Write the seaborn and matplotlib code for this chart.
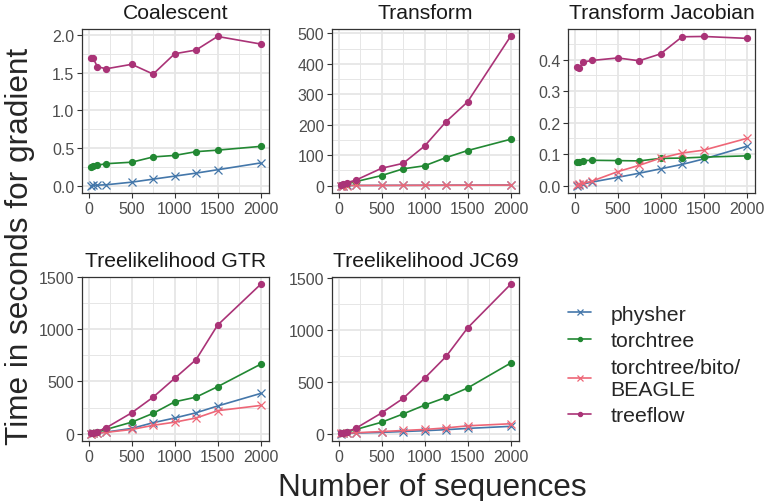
import pandas as pd
import matplotlib
matplotlib.use("Agg")
import matplotlib.pyplot as plt
import seaborn as sns
from matplotlib.ticker import MultipleLocator, AutoMinorLocator
from matplotlib.lines import Line2D

# number of sequences (x axis)
n_seq = [20, 50, 100, 200, 500, 750, 1000, 1250, 1500, 2000]

# Coalescent
coal_physher = [0.0, 0.002, 0.005, 0.01, 0.045, 0.085, 0.125, 0.165, 0.21, 0.30]
coal_torchtree = [0.25, 0.26, 0.27, 0.29, 0.31, 0.38, 0.40, 0.45, 0.47, 0.52]
coal_treeflow = [1.70, 1.69, 1.58, 1.55, 1.61, 1.48, 1.75, 1.80, 1.98, 1.88]

# Transform
trans_physher = [0.05, 0.1, 0.2, 0.3, 0.6, 0.8, 1.0, 1.2, 1.4, 1.8]
trans_torchtree = [1, 3, 6, 13, 33, 55, 65, 92, 115, 152]
trans_beagle = [0.03, 0.05, 0.1, 0.2, 0.4, 0.6, 0.8, 1.0, 1.2, 1.5]
trans_treeflow = [2, 5, 10, 18, 57, 73, 130, 210, 275, 490]

# Transform Jacobian
jac_physher = [0.001, 0.003, 0.006, 0.012, 0.027, 0.040, 0.054, 0.068, 0.085, 0.125]
jac_torchtree = [0.074, 0.077, 0.080, 0.081, 0.080, 0.079, 0.087, 0.088, 0.091, 0.095]
jac_beagle = [0.003, 0.005, 0.008, 0.015, 0.045, 0.065, 0.088, 0.104, 0.113, 0.150]
jac_treeflow = [0.375, 0.373, 0.392, 0.397, 0.405, 0.396, 0.418, 0.472, 0.473, 0.467]

# Treelikelihood GTR
gtr_physher = [1, 3, 6, 15, 50, 105, 150, 200, 265, 385]
gtr_torchtree = [2, 6, 15, 40, 110, 195, 305, 350, 450, 665]
gtr_beagle = [1, 2, 5, 12, 40, 80, 110, 150, 220, 270]
gtr_treeflow = [3, 8, 20, 55, 200, 350, 530, 710, 1040, 1430]

# Treelikelihood JC69
jc_physher = [0.5, 1, 2, 5, 12, 20, 28, 38, 50, 70]
jc_torchtree = [2, 6, 15, 40, 110, 190, 275, 350, 440, 680]
jc_beagle = [1, 2, 4, 8, 20, 30, 40, 55, 75, 95]
jc_treeflow = [3, 8, 20, 52, 200, 340, 535, 745, 1020, 1440]

methods = ["physher", "torchtree", "torchtree/bito/BEAGLE", "treeflow"]
legend_labels = ["physher", "torchtree", "torchtree/bito/\nBEAGLE", "treeflow"]
colors = {"physher": "#4477AA", "torchtree": "#228833",
          "torchtree/bito/BEAGLE": "#EE6677", "treeflow": "#AA3377"}
markers = {"physher": "x", "torchtree": "o",
           "torchtree/bito/BEAGLE": "x", "treeflow": "o"}

paineis = {
    "Coalescent": {"physher": coal_physher, "torchtree": coal_torchtree,
                   "treeflow": coal_treeflow},
    "Transform": {"physher": trans_physher, "torchtree": trans_torchtree,
                  "torchtree/bito/BEAGLE": trans_beagle, "treeflow": trans_treeflow},
    "Transform Jacobian": {"physher": jac_physher, "torchtree": jac_torchtree,
                           "torchtree/bito/BEAGLE": jac_beagle, "treeflow": jac_treeflow},
    "Treelikelihood GTR": {"physher": gtr_physher, "torchtree": gtr_torchtree,
                           "torchtree/bito/BEAGLE": gtr_beagle, "treeflow": gtr_treeflow},
    "Treelikelihood JC69": {"physher": jc_physher, "torchtree": jc_torchtree,
                            "torchtree/bito/BEAGLE": jc_beagle, "treeflow": jc_treeflow},
}
y_step = {"Coalescent": 0.5, "Transform": 100, "Transform Jacobian": 0.1,
          "Treelikelihood GTR": 500, "Treelikelihood JC69": 500}

linhas = []
for painel, series in paineis.items():
    for m, vals in series.items():
        for n, v in zip(n_seq, vals):
            linhas.append({"panel": painel, "method": m, "n": n, "time": v})
dados = pd.DataFrame(linhas)

sns.set_style("white")
plt.rcParams['font.family'] = ['Liberation Sans', 'DejaVu Sans']

W, H = 765, 502
fig = plt.figure(figsize=(W / 100, H / 100), dpi=100)

# panel boxes in pixels: left, top, width, height
caixas = {
    "Coalescent": (82, 30, 187, 164),
    "Transform": (332, 30, 187, 164),
    "Transform Jacobian": (568, 30, 187, 164),
    "Treelikelihood GTR": (82, 278, 187, 164),
    "Treelikelihood JC69": (332, 278, 187, 164),
}

for painel, (l, t, w, h) in caixas.items():
    ax = fig.add_axes([l / W, 1 - (t + h) / H, w / W, h / H])
    sub = dados[dados.panel == painel]
    for m in methods:
        d = sub[sub.method == m]
        if d.empty:
            continue
        ms = 5.5 if markers[m] == "x" else 4.3
        sns.lineplot(data=d, x="n", y="time", ax=ax, color=colors[m],
                     marker=markers[m], markersize=ms, mec=colors[m],
                     mew=0.9, lw=1.2, legend=False)
    ax.margins(x=0.05, y=0.05)
    ax.xaxis.set_major_locator(MultipleLocator(500))
    ax.xaxis.set_minor_locator(AutoMinorLocator(2))
    ax.yaxis.set_major_locator(MultipleLocator(y_step[painel]))
    ax.yaxis.set_minor_locator(AutoMinorLocator(2))
    ax.set_axisbelow(True)
    ax.grid(which="major", color="#E6E6E6", lw=1.3)
    ax.grid(which="minor", color="#E6E6E6", lw=0.7)
    for s in ax.spines.values():
        s.set_color("#333333")
        s.set_linewidth(0.9)
    ax.tick_params(which="major", direction="out", length=3.5, width=0.8,
                   color="#333333", labelcolor="#4D4D4D", labelsize=11.5, pad=2,
                   left=True, bottom=True)
    ax.tick_params(which="minor", length=0)
    ax.set_xlabel("")
    ax.set_ylabel("")
    ax.set_title(painel, fontsize=15.2, color="#1A1A1A", pad=8)

# legend
handles = []
for m in methods:
    ms = 5.5 if markers[m] == "x" else 4.3
    handles.append(Line2D([], [], color=colors[m], marker=markers[m],
                          markersize=ms * 0.7, mec=colors[m], mew=0.9, lw=1.2))
fig.legend(handles, legend_labels, loc="center left",
           bbox_to_anchor=(568 / W, 1 - 366 / H), frameon=False,
           fontsize=15.3, handlelength=1.1, handletextpad=0.9,
           labelspacing=0.35, borderpad=0, borderaxespad=0)

fig.text(432 / W, 1 - 488 / H, "Number of sequences", ha="center", va="center",
         fontsize=22.7)
fig.text(20 / W, 1 - 246 / H, "Time in seconds for gradient", ha="center",
         va="center", rotation=90, fontsize=22.7)

fig.savefig("out.png", dpi=100)
